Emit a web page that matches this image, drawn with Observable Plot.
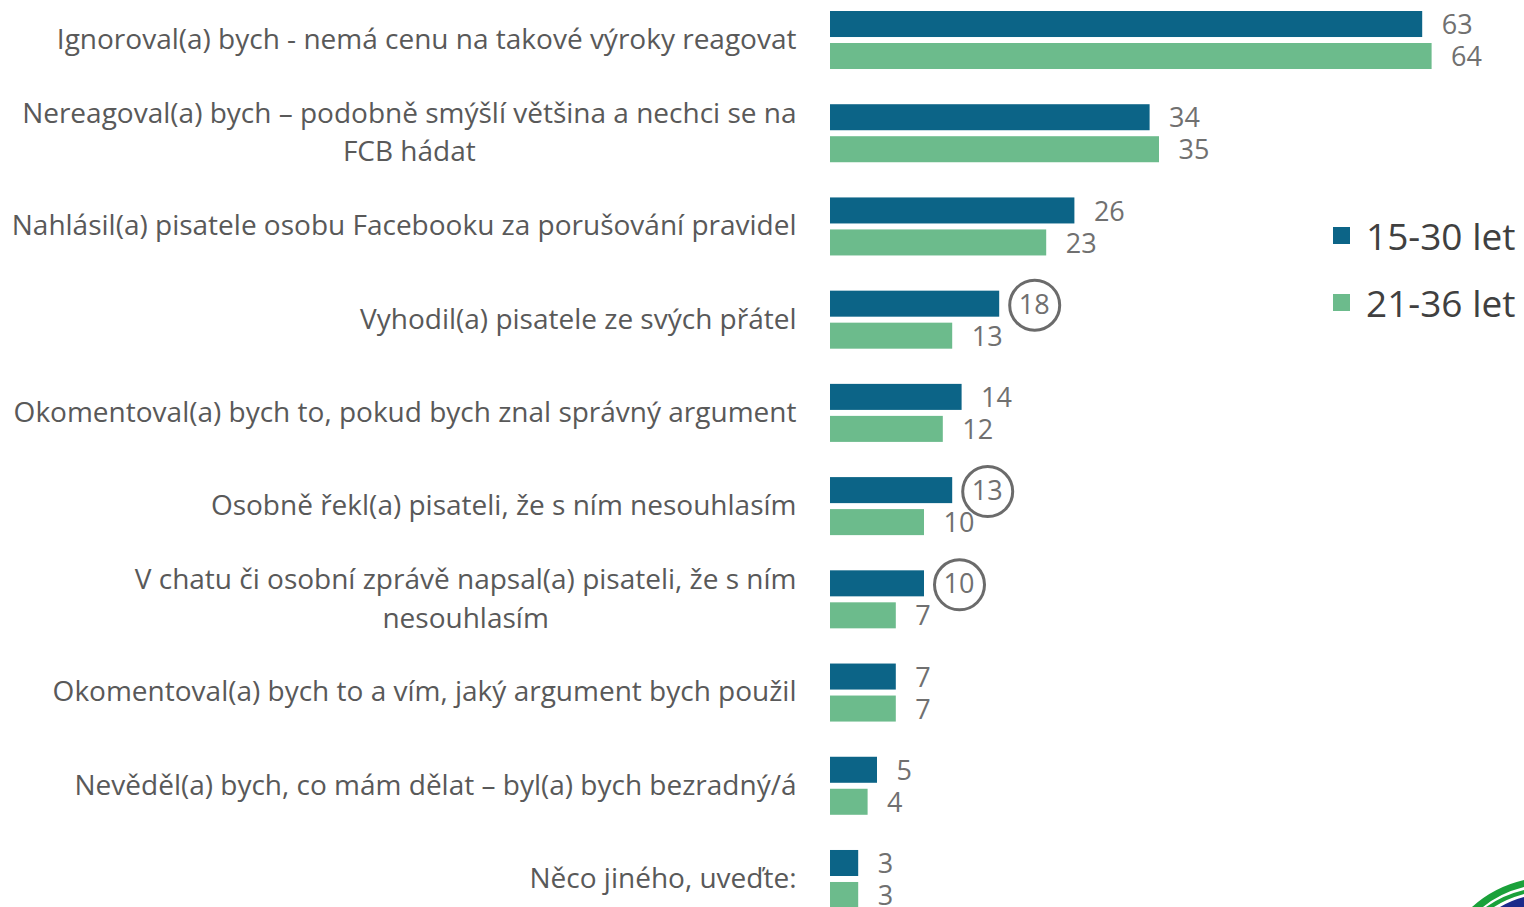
<!DOCTYPE html>
<html><head><meta charset="utf-8">
<script src="https://cdn.jsdelivr.net/npm/d3@7"></script>
<script src="https://cdn.jsdelivr.net/npm/@observablehq/plot@0.6"></script>
<style>
body{margin:0;background:#fff;}
#wrap{position:relative;width:1524px;height:907px;overflow:hidden;font-family:"Open Sans",Lato,sans-serif;}
#legend{position:absolute;left:1333px;top:202px;}
.item{display:flex;align-items:center;height:67px;font-size:37px;color:#404040;white-space:nowrap;}
.sw{width:17px;height:17px;margin-right:16px;flex:none;}
#logo{position:absolute;left:0;top:0;pointer-events:none;}
</style></head><body>
<div id="wrap"><div id="chart"></div><div id="legend"></div>
<svg id="logo" width="1524" height="907"><path d="M1472 907 Q1494 887 1524 880 L1524 887 Q1500 893 1483 907 Z" fill="#1aa13a"/><path d="M1486 907 Q1503 895 1524 890 L1524 894 Q1506 899 1494 907 Z" fill="#1aa13a"/><path d="M1500 907 Q1512 900 1524 897 L1524 907 Z" fill="#1b2a8a"/></svg>
</div>
<script>
const categories = [
  "Ignoroval(a) bych - nemá cenu na takové výroky reagovat",
  "Nereagoval(a) bych – podobně smýšlí většina a nechci se na\nFCB hádat",
  "Nahlásil(a) pisatele osobu Facebooku za porušování pravidel",
  "Vyhodil(a) pisatele ze svých přátel",
  "Okomentoval(a) bych to, pokud bych znal správný argument",
  "Osobně řekl(a) pisateli, že s ním nesouhlasím",
  "V chatu či osobní zprávě napsal(a) pisateli, že s ním\nnesouhlasím",
  "Okomentoval(a) bych to a vím, jaký argument bych použil",
  "Nevěděl(a) bych, co mám dělat – byl(a) bych bezradný/á",
  "Něco jiného, uveďte:"
];
const seriesNames = ["15-30 let", "21-36 let"];
const values1530 = [63, 34, 26, 18, 14, 13, 10, 7, 5, 3];
const values2136 = [64, 35, 23, 13, 12, 10, 7, 7, 4, 3];
const circled1530 = [false, false, false, true, false, true, true, false, false, false];
const colors = ["#0C6487", "#6CBB8C"];

const rowsA = categories.map((c, i) => ({category: c, value: values1530[i], circled: circled1530[i]}));
const rowsB = categories.map((c, i) => ({category: c, value: values2136[i]}));

const fontSize = 27;
const plot = Plot.plot({
  width: 1524,
  height: 907,
  marginLeft: 830,
  marginRight: 36,
  marginTop: 0,
  marginBottom: 0,
  style: {fontFamily: "'Open Sans', Lato, sans-serif", background: "transparent"},
  x: {domain: [0, 70], axis: null},
  y: {type: "band", domain: categories, range: [-6.6, 925.6], padding: 0, round: false, axis: null},
  marks: [
    Plot.barX(rowsA, {x: "value", y: "category", fill: colors[0], insetTop: 17.6, insetBottom: 49.6}),
    Plot.barX(rowsB, {x: "value", y: "category", fill: colors[1], insetTop: 49.6, insetBottom: 17.6}),
    Plot.text(rowsA, {x: "value", y: "category", text: d => String(d.value), dx: 19, dy: -15, textAnchor: "start", fontSize, fill: "#707070"}),
    Plot.text(rowsB, {x: "value", y: "category", text: d => String(d.value), dx: 19, dy: 17, textAnchor: "start", fontSize, fill: "#707070"}),
    Plot.dot(rowsA.filter(d => d.circled), {x: "value", y: "category", r: 25, dx: 35, dy: -15, stroke: "#6b6b6b", strokeWidth: 3, fill: "none"}),
    Plot.text(categories, {y: d => d, text: d => d, frameAnchor: "left", textAnchor: "end", dx: -34, dy: -4, lineHeight: 1.38, fontSize: 28, fill: "#595959"})
  ]
});
document.getElementById("chart").appendChild(plot);

// center multi-line labels within their right-aligned block
plot.querySelectorAll("text").forEach(t => {
  const ts = t.querySelectorAll("tspan");
  if (ts.length > 1) {
    const widths = Array.from(ts, s => s.getComputedTextLength());
    const w = Math.max(...widths);
    t.setAttribute("text-anchor", "middle");
    t.style.textAnchor = "middle";
    ts.forEach(s => s.setAttribute("x", -w / 2));
  }
});

const legend = document.getElementById("legend");
seriesNames.forEach((name, i) => {
  const item = document.createElement("div");
  item.className = "item";
  const sw = document.createElement("span");
  sw.className = "sw";
  sw.style.background = colors[i];
  const label = document.createElement("span");
  label.textContent = name;
  item.appendChild(sw);
  item.appendChild(label);
  legend.appendChild(item);
});
</script>
</body></html>
